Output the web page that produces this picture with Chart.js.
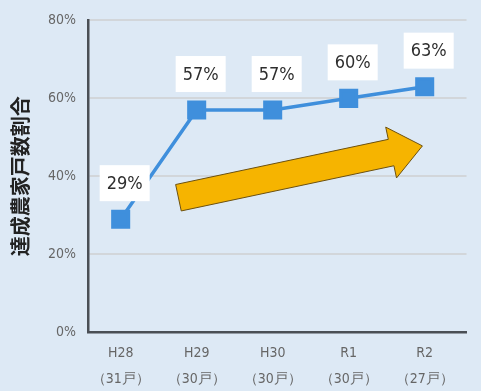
<!DOCTYPE html>
<html>
<head>
<meta charset="utf-8">
<script src="https://cdn.jsdelivr.net/npm/chart.js@4"></script>
<style>
  html, body { margin: 0; padding: 0; background: #dde9f5; }
  #wrap { width: 481px; height: 391px; }
</style>
</head>
<body>
<div id="wrap"><canvas id="rateChart" width="481" height="391"></canvas></div>
<script>
// data
const years = ['H28', 'H29', 'H30', 'R1', 'R2'];
const farms = ['（31戸）', '（30戸）', '（30戸）', '（30戸）', '（27戸）'];
const rates = [29, 57, 57, 60, 63];
const yTicks = [0, 20, 40, 60, 80];

const tickFont = "'DejaVu Sans Condensed', 'Liberation Sans Narrow', sans-serif";

// white boxes with the value above each point
const valueLabels = {
    id: 'valueLabels',
    afterDatasetsDraw(chart) {
        const ctx = chart.ctx;
        const meta = chart.getDatasetMeta(0);
        ctx.save();
        ctx.font = "18px " + tickFont;
        ctx.textAlign = 'center';
        ctx.textBaseline = 'middle';
        meta.data.forEach((pt, i) => {
            const cx = pt.x + 4;
            const cy = pt.y - 36;
            ctx.fillStyle = '#ffffff';
            ctx.fillRect(cx - 25, cy - 18, 50, 36);
            ctx.fillStyle = '#2e2e2e';
            ctx.fillText(rates[i] + '%', cx, cy + 1);
        });
        ctx.restore();
    }
};

// orange trend arrow, placed with the chart's scales
const trendArrow = {
    id: 'trendArrow',
    beforeDatasetsDraw(chart) {
        const xs = chart.scales.x, ys = chart.scales.y;
        const x0 = xs.getPixelForValue(0.76), y0 = ys.getPixelForValue(34.5);
        const x1 = xs.getPixelForValue(3.97), y1 = ys.getPixelForValue(47.8);
        const dx = x1 - x0, dy = y1 - y0;
        const len = Math.sqrt(dx * dx + dy * dy);
        const ux = dx / len, uy = dy / len;
        const nx = -uy, ny = ux;
        const shaft = 13.5, head = 26, headLen = 32;
        const bx = x1 - ux * headLen, by = y1 - uy * headLen;
        const ctx = chart.ctx;
        ctx.save();
        ctx.beginPath();
        ctx.moveTo(x0 + nx * shaft, y0 + ny * shaft);
        ctx.lineTo(bx + nx * shaft, by + ny * shaft);
        ctx.lineTo(bx + nx * head, by + ny * head);
        ctx.lineTo(x1, y1);
        ctx.lineTo(bx - nx * head, by - ny * head);
        ctx.lineTo(bx - nx * shaft, by - ny * shaft);
        ctx.lineTo(x0 - nx * shaft, y0 - ny * shaft);
        ctx.closePath();
        ctx.fillStyle = '#f6b400';
        ctx.fill();
        ctx.lineWidth = 1;
        ctx.strokeStyle = '#6b5010';
        ctx.stroke();
        ctx.restore();
    }
};

new Chart(document.getElementById('rateChart').getContext('2d'), {
    type: 'line',
    data: {
        datasets: [{
            data: rates.map((v, i) => ({ x: i, y: v })),
            borderColor: '#3f8fdc',
            backgroundColor: '#3f8fdc',
            borderWidth: 3.5,
            pointStyle: 'rect',
            pointRadius: 11,
            pointHoverRadius: 11,
            tension: 0
        }]
    },
    options: {
        responsive: false,
        animation: false,
        layout: { padding: { left: 8, right: 11, top: 5, bottom: -9 } },
        plugins: {
            legend: { display: false },
            tooltip: { enabled: false }
        },
        scales: {
            x: {
                type: 'linear',
                min: -0.43,
                max: 4.55,
                afterBuildTicks(axis) {
                    axis.ticks = years.map((y, i) => ({ value: i }));
                },
                grid: { display: false, drawTicks: false },
                border: { color: '#4a4f55', width: 2.5 },
                ticks: {
                    color: '#666666',
                    font: { family: tickFont, size: 14, lineHeight: 1.85 },
                    padding: 8,
                    maxRotation: 0,
                    callback: v => [years[v], farms[v]]
                }
            },
            y: {
                min: 0,
                max: 80,
                afterBuildTicks(axis) {
                    axis.ticks = yTicks.map(v => ({ value: v }));
                },
                grid: { color: '#d2d6da', lineWidth: 2, drawTicks: false },
                border: { color: '#4a4f55', width: 2.5 },
                ticks: {
                    color: '#666666',
                    font: { family: tickFont, size: 14 },
                    padding: 12,
                    callback: v => v + '%'
                },
                title: {
                    display: true,
                    text: '達成農家戸数割合',
                    color: '#222222',
                    font: { family: "'Noto Sans CJK JP', sans-serif", size: 20, weight: 'bold' },
                    padding: { top: 0, bottom: 4 }
                }
            }
        }
    },
    plugins: [trendArrow, valueLabels]
});
</script>
</body>
</html>
